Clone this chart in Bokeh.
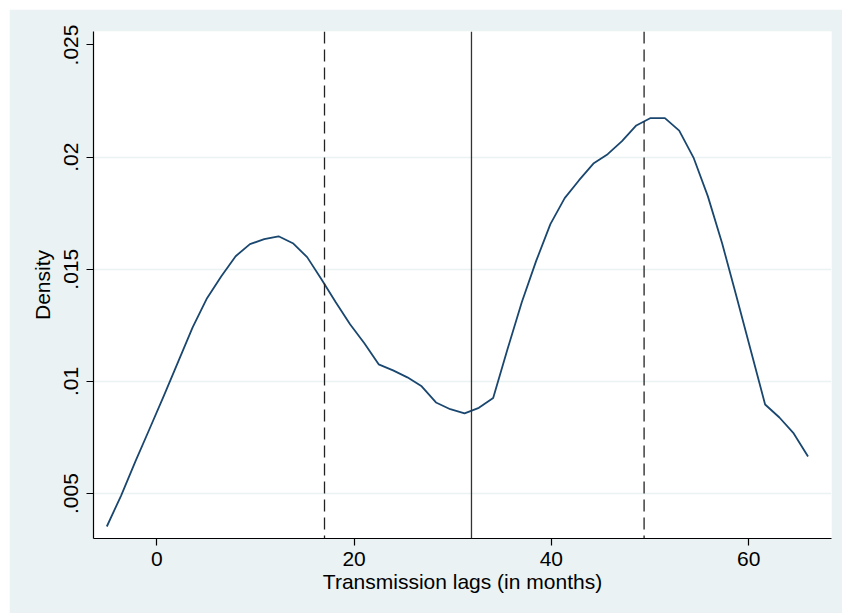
from bokeh.plotting import figure
from bokeh.models import Span, FixedTicker, Range1d, Spacer
from bokeh.layouts import column, row
from bokeh.embed import file_html
from bokeh.resources import INLINE

# ---- data ----
lag_months = [-5.07, -3.62, -2.17, -0.72, 0.73, 2.18, 3.63, 5.09, 6.54, 7.99,
              9.44, 10.89, 12.34, 13.79, 15.24, 16.69, 18.14, 19.59, 21.04, 22.49,
              23.95, 25.40, 26.85, 28.30, 29.75, 31.20, 32.65, 34.10, 35.55, 37.00,
              38.45, 39.90, 41.35, 42.81, 44.26, 45.71, 47.16, 48.61, 50.06, 51.51,
              52.96, 54.41, 55.86, 57.31, 58.76, 60.22, 61.67, 63.12, 64.57, 66.02]
density = [0.00353, 0.00491, 0.00643, 0.00790, 0.00938, 0.01089, 0.01241, 0.01371, 0.01469, 0.01558,
           0.01612, 0.01634, 0.01647, 0.01616, 0.01554, 0.01455, 0.01353, 0.01255, 0.01170, 0.01076,
           0.01049, 0.01018, 0.00978, 0.00906, 0.00876, 0.00857, 0.00882, 0.00926, 0.01143, 0.01353,
           0.01536, 0.01701, 0.01817, 0.01897, 0.01971, 0.02013, 0.02071, 0.02141, 0.02174, 0.02174,
           0.02118, 0.01998, 0.01826, 0.01616, 0.01380, 0.01138, 0.00897, 0.00839, 0.00768, 0.00665]

dashed_lines = [17.0, 49.4]
solid_lines = [31.9]

x_ticks = [0, 20, 40, 60]
y_ticks = [0.005, 0.01, 0.015, 0.02, 0.025]
y_tick_labels = [".005", ".01", ".015", ".02", ".025"]
y_grid = [0.005, 0.01, 0.015, 0.02]

x_title = "Transmission lags (in months)"
y_title = "Density"

# ---- styling ----
BG = "#EAF2F3"
NAVY = "#1A476F"
FONT = "Liberation Sans"
FS = "21px"

p = figure(frame_width=738, frame_height=507, output_backend="svg", toolbar_location=None,
           x_range=Range1d(-6.42, 68.4), y_range=Range1d(0.002995, 0.0256),
           min_border_left=84, min_border_right=30, min_border_top=22, min_border_bottom=90)

p.background_fill_color = "white"
p.border_fill_color = BG
p.outline_line_color = None

p.line(lag_months, density, line_color=NAVY, line_width=1.8)

for xv in dashed_lines:
    p.add_layout(Span(location=xv, dimension="height", line_color="#222222",
                      line_width=1.3, line_dash="12 6"))
for xv in solid_lines:
    p.add_layout(Span(location=xv, dimension="height", line_color="#333333",
                      line_width=1.3))

# grids
p.xgrid.grid_line_color = None
p.ygrid.ticker = FixedTicker(ticks=y_grid)
p.ygrid.grid_line_color = BG
p.ygrid.grid_line_width = 1.5

# axes
for ax in (p.xaxis[0], p.yaxis[0]):
    ax.axis_line_color = "black"
    ax.axis_line_width = 1.2
    ax.major_tick_line_color = "black"
    ax.major_tick_line_width = 1.2
    ax.major_tick_out = 7
    ax.major_tick_in = 0
    ax.minor_tick_line_color = None
    ax.major_label_text_font = FONT
    ax.major_label_text_font_size = FS
    ax.major_label_text_color = "black"
    ax.axis_label_text_font = FONT
    ax.axis_label_text_font_size = FS
    ax.axis_label_text_font_style = "normal"
    ax.axis_label_text_color = "black"

p.xaxis.ticker = FixedTicker(ticks=x_ticks)
p.xaxis.axis_label = x_title
p.xaxis.major_label_standoff = 6
p.xaxis.axis_label_standoff = 1

p.yaxis.ticker = FixedTicker(ticks=y_ticks)
p.yaxis.major_label_overrides = {t: s for t, s in zip(y_ticks, y_tick_labels)}
p.yaxis.major_label_orientation = "vertical"
p.yaxis.axis_label = y_title
p.yaxis.major_label_standoff = 8
p.yaxis.axis_label_standoff = 8

layout = column(Spacer(height=9), row(Spacer(width=9), p))

open("out.html", "w").write(file_html(layout, INLINE))
